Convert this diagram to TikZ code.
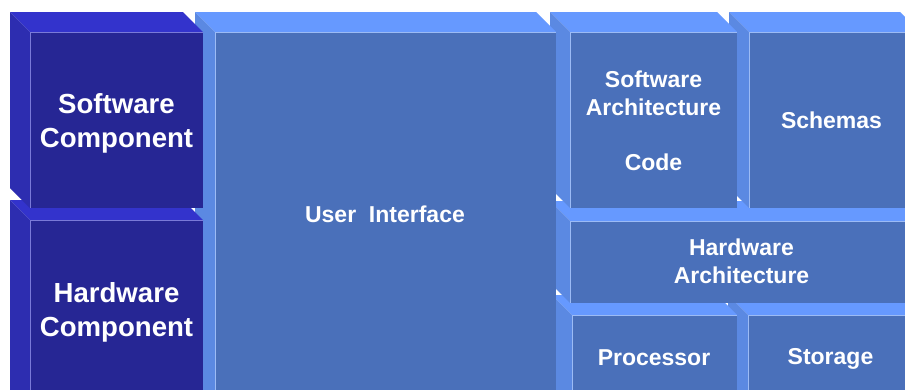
\documentclass[tikz,border=0pt]{standalone}
\usepackage{fontspec}
\setmainfont{Liberation Sans}
\definecolor{darkfront}{HTML}{262694}
\definecolor{darktop}{HTML}{3333CC}
\definecolor{darkleft}{HTML}{2D2DB0}
\definecolor{darkedge}{HTML}{7A7AD8}
\definecolor{lightfront}{HTML}{4A70BA}
\definecolor{lighttop}{HTML}{6699FF}
\definecolor{lightleft}{HTML}{5B89E2}
\definecolor{lightedge}{HTML}{9CBBF5}
\newcommand{\cubebox}[5]{%
  \fill[#5top] ({#1-20},{#2-20}) -- ({#3-20},{#2-20}) -- (#3,#2) -- (#1,#2) -- cycle;
  \fill[#5left] ({#1-20},{#2-20}) -- (#1,#2) -- (#1,#4) -- ({#1-20},{#4-20}) -- cycle;
  \fill[#5front] (#1,#2) rectangle (#3,#4);
  \draw[#5edge, line width=0.7pt] (#1,#4) -- (#1,#2) -- (#3,#2);
}
\tikzset{
  bigtxt/.style={text=white, align=center, inner sep=0pt,
    font=\bfseries\fontsize{27.6}{34}\selectfont},
  smalltxt/.style={text=white, align=center, inner sep=0pt,
    font=\bfseries\fontsize{23}{28}\selectfont}
}
\begin{document}
\begin{tikzpicture}[x=1pt,y=-1pt]
\useasboundingbox (0,0) rectangle (905,389);
\clip (0,0) rectangle (905,389);
\fill[white] (0,0) rectangle (905,389);
% right column, drawn back to front
\cubebox{748}{315}{920}{430}{light}
\cubebox{572}{315}{737}{430}{light}
\cubebox{570}{221}{920}{303}{light}
\cubebox{749}{32}{920}{208}{light}
\cubebox{570}{32}{737}{208}{light}
% user interface
\cubebox{215}{32}{556}{430}{light}
% left column
\cubebox{30}{220}{203}{430}{dark}
\cubebox{30}{32}{203}{208}{dark}
% texts
\node[bigtxt] (swc) at (116.5,123) {Software\\Component};
\node[bigtxt] (hwc) at (116.5,312) {Hardware\\Component};
\node[smalltxt] (ui) at (385,214.5) {User\ \ Interface};
\node[smalltxt] (swa) at (653.5,120.5) {Software\\Architecture\\[27pt]Code};
\node[smalltxt] (sch) at (831.5,120.5) {Schemas};
\node[smalltxt] (hwa) at (741.5,261.5) {Hardware\\Architecture};
\node[smalltxt] (proc) at (654,357.5) {Processor};
\node[smalltxt] (stor) at (830.5,359) {Storage};
\end{tikzpicture}
\end{document}
